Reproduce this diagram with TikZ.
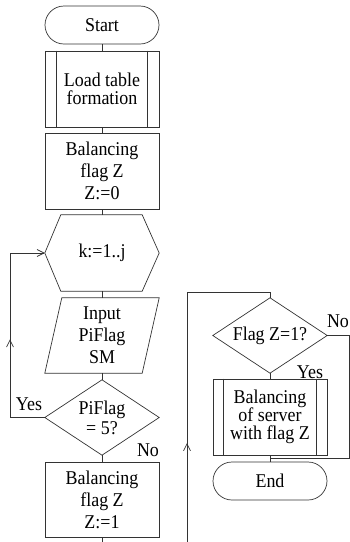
\documentclass[tikz,border=0pt]{standalone}
\usepackage{fontspec}
\setmainfont[FakeStretch=0.92]{Liberation Serif}
\usetikzlibrary{arrows.meta,calc,decorations.markings}
\tikzset{
  base/.style={inner sep=0pt, align=center, text=black},
  ln/.style={draw=black!80, line width=0.7pt},
  box/.style={base, ln, minimum width=114pt, minimum height=76pt},
  ghost/.style={base, minimum width=114pt, minimum height=76pt},
  term/.style={base, ln, rounded corners=19pt, minimum width=114pt, minimum height=38pt},
  lbl/.style={base, font=\fontsize{19.5}{22}\selectfont},
  barb/.tip={Straight Barb[length=7pt,width=7pt]},
}
\begin{document}
\begin{tikzpicture}[x=1pt,y=-1pt]
\useasboundingbox (0,0) rectangle (350,542);
% left column
\node[term, font=\fontsize{19.5}{22}\selectfont] (start) at (102,25) {Start};
\node[box, font=\fontsize{19.5}{18.5}\selectfont] (load) at (102,89) {Load table\\formation};
\draw[ln] ($(load.north west)+(12,0)$) -- ($(load.south west)+(12,0)$);
\draw[ln] ($(load.north east)+(-12,0)$) -- ($(load.south east)+(-12,0)$);
\node[box, font=\fontsize{19.5}{22}\selectfont] (bal0) at (102,171) {Balancing\\flag Z\\Z:=0};
\node[ghost, font=\fontsize{19.5}{22}\selectfont] (hex) at (102,253) {k:=1..j};
\draw[ln] (hex.west) -- ($(hex.north west)+(16,0)$) -- ($(hex.north east)+(-17,0)$) -- (hex.east)
  -- ($(hex.south east)+(-17,0)$) -- ($(hex.south west)+(16,0)$) -- cycle;
\node[ghost, minimum height=75pt, font=\fontsize{19.5}{22}\selectfont] (inp) at (102,335.5) {Input\\PiFlag\\SM};
\draw[ln] ($(inp.north west)+(17,0)$) -- (inp.north east) -- ($(inp.south east)+(-17,0)$) -- (inp.south west) -- cycle;
\node[ghost, minimum height=75pt, font=\fontsize{19.5}{20}\selectfont] (pif) at (102,417.5) {PiFlag\\= 5?};
\draw[ln] (pif.north) -- (pif.east) -- (pif.south) -- (pif.west) -- cycle;
\node[box, minimum height=75pt, font=\fontsize{19.5}{22}\selectfont] (bal1) at (102,499.5) {Balancing\\flag Z\\Z:=1};
\coordinate (b1end) at (102,542);
% left connectors
\draw[ln] (start) -- (load);
\draw[ln] (load) -- (bal0);
\draw[ln] (bal0) -- (hex);
\draw[ln] (hex) -- (inp);
\draw[ln] (inp) -- (pif);
\draw[ln] (pif.south) -- (bal1.north);
\draw[ln] (bal1.south) -- (b1end);
\coordinate (lb) at (10,417.5);
\coordinate (lt) at (10,253);
\draw[ln, -{barb}, postaction={decorate},
  decoration={markings, mark=at position 113pt with {\arrow{barb}}}]
  (pif.west) -- (lb) -- (lt) -- (hex.west);
\node[lbl] (yes1) at (29,404) {Yes};
\node[lbl] (no1) at (148,450) {No};
% right column
\node[ghost, minimum height=75pt, font=\fontsize{19.5}{22}\selectfont] (flg) at (270,335.5) {Flag Z=1?};
\draw[ln] (flg.north) -- (flg.east) -- (flg.south) -- (flg.west) -- cycle;
\node[box, font=\fontsize{19.5}{18}\selectfont] (srv) at (270,417) {Balancing\\of server\\with flag Z};
\draw[ln] ($(srv.north west)+(11,0)$) -- ($(srv.south west)+(11,0)$);
\draw[ln] ($(srv.north east)+(-11,0)$) -- ($(srv.south east)+(-11,0)$);
\node[term, font=\fontsize{19.5}{22}\selectfont] (end) at (270,481) {End};
\coordinate (rb) at (187,542);
\coordinate (rt) at (187,292);
\coordinate (rtt) at (270,292);
\draw[ln, postaction={decorate},
  decoration={markings, mark=at position 99pt with {\arrow{barb}}}]
  (rb) -- (rt) -- (rtt) -- (flg.north);
\draw[ln] (flg.south) -- (srv.north);
\draw[ln] (srv.south) -- (end.north);
\coordinate (nr) at (349.5,335.5);
\coordinate (nb) at (349.5,458.5);
\coordinate (nj) at (270,458.5);
\draw[ln] (flg.east) -- (nr) -- (nb) -- (nj);
\node[lbl] (no2) at (338,321) {No};
\node[lbl] (yes2) at (310,372) {Yes};
\end{tikzpicture}
\end{document}
